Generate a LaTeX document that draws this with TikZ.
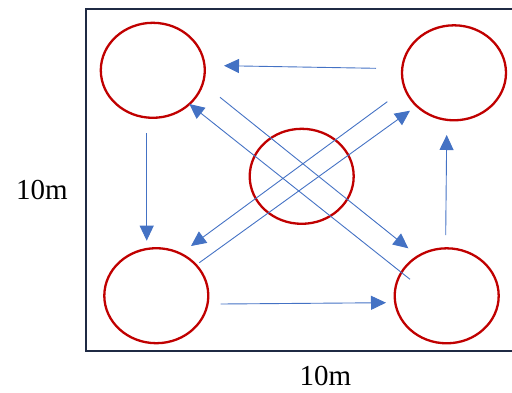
\documentclass[tikz,border=0pt]{standalone}
\usepackage{fontspec}
\setmainfont{Liberation Serif}
\usetikzlibrary{arrows.meta,shapes.geometric}
\definecolor{ringred}{HTML}{C00000}
\definecolor{flowblue}{HTML}{4472C4}
\definecolor{framenavy}{HTML}{1F2A44}
\begin{document}
\begin{tikzpicture}[x=1pt,y=-1pt,
  ring/.style={draw=ringred,line width=2.3pt,ellipse,minimum width=104pt,minimum height=95pt,inner sep=0pt},
  flow/.style={draw=flowblue,line width=0.9pt,-{Triangle[length=15pt,width=14pt]}},
  lbl/.style={font=\fontsize{29}{30}\selectfont,inner sep=0pt}]
\useasboundingbox (0,0) rectangle (512,392);
\clip (0,0) rectangle (512,392);
\draw[framenavy,line width=2pt] (86,9) rectangle (530,351);
\node[ring] (tl) at (152.8,70.3) {};
\node[ring] (tr) at (454,72.8) {};
\node[ring] (c) at (301.7,176.3) {};
\node[ring] (bl) at (156.3,295.7) {};
\node[ring] (br) at (446.7,295.8) {};
\node[lbl] (lv) at (42,190) {10m};
\node[lbl] (lh) at (325.5,376) {10m};
% endpoints
\coordinate (a1) at (376,68.3);   \coordinate (a2) at (224,65.7);
\coordinate (b1) at (146.7,133.3); \coordinate (b2) at (146.7,240.7);
\coordinate (c1) at (220.7,304);  \coordinate (c2) at (386,302.7);
\coordinate (d1) at (445.7,235);  \coordinate (d2) at (446.7,135);
\coordinate (e1) at (220,97.3);   \coordinate (e2) at (408.3,248.3);
\coordinate (f1) at (410,279.3);  \coordinate (f2) at (189.3,104);
\coordinate (g1) at (387.3,101.7); \coordinate (g2) at (191,246);
\coordinate (h1) at (199.3,262.7); \coordinate (h2) at (410,110.7);
\draw[flow] (a1) -- (a2);
\draw[flow] (b1) -- (b2);
\draw[flow] (c1) -- (c2);
\draw[flow] (d1) -- (d2);
\draw[flow] (e1) -- (e2);
\draw[flow] (f1) -- (f2);
\draw[flow] (g1) -- (g2);
\draw[flow] (h1) -- (h2);
\end{tikzpicture}
\end{document}
